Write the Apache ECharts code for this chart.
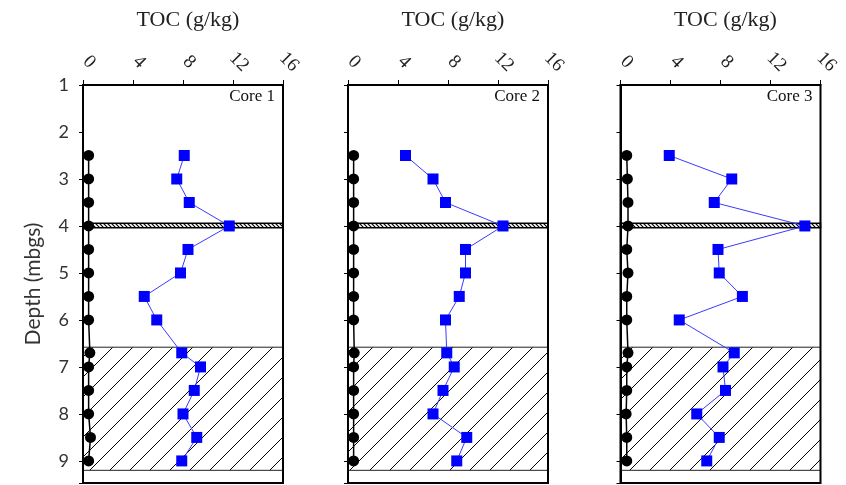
<!DOCTYPE html>
<html><head><meta charset="utf-8">
<script src="https://cdn.jsdelivr.net/npm/echarts@6/dist/echarts.min.js"></script>
<style>html,body{margin:0;padding:0;background:#fff}#c{width:846px;height:485px}</style>
</head><body><div id="c"></div>
<script>
const depths = [2.5, 3, 3.5, 4, 4.5, 5, 5.5, 6, 6.7, 7, 7.5, 8, 8.5, 9];
const core1TOC = [8.1, 7.5, 8.5, 11.7, 8.4, 7.8, 4.9, 5.9, 7.9, 9.4, 8.9, 8.0, 9.1, 7.9];
const core2TOC = [4.6, 6.8, 7.8, 12.4, 9.4, 9.4, 8.9, 7.8, 7.9, 8.5, 7.6, 6.8, 9.5, 8.7];
const core3TOC = [3.9, 8.9, 7.5, 14.75, 7.8, 7.9, 9.75, 4.7, 9.1, 8.2, 8.4, 6.1, 7.9, 6.9];
const core1Base = [0.45, 0.45, 0.45, 0.45, 0.45, 0.45, 0.45, 0.45, 0.55, 0.45, 0.45, 0.45, 0.6, 0.45];
const core2Base = [0.45, 0.45, 0.45, 0.45, 0.45, 0.45, 0.45, 0.45, 0.5, 0.45, 0.45, 0.45, 0.45, 0.45];
const core3Base = [0.5, 0.55, 0.6, 0.6, 0.5, 0.6, 0.5, 0.5, 0.6, 0.5, 0.5, 0.45, 0.5, 0.5];
const coreNames = ['Core 1', 'Core 2', 'Core 3'];
const xTicks = [0, 4, 8, 12, 16];
const thinLayer = [3.94, 4.04];
const hatchedLayer = [6.58, 9.2];

function makePattern(size, dir, width) {
  const c = document.createElement('canvas');
  c.width = size; c.height = size;
  const g = c.getContext('2d');
  g.strokeStyle = '#000'; g.lineWidth = width;
  g.beginPath();
  if (dir === '/') {
    g.moveTo(-1, size + 1); g.lineTo(size + 1, -1);
    g.moveTo(-1, 1); g.lineTo(1, -1);
    g.moveTo(size - 1, size + 1); g.lineTo(size + 1, size - 1);
  } else {
    g.moveTo(-1, -1); g.lineTo(size + 1, size + 1);
    g.moveTo(size - 1, -1); g.lineTo(size + 1, 1);
    g.moveTo(-1, size - 1); g.lineTo(1, size + 1);
  }
  g.stroke();
  return c;
}
const bigHatch = makePattern(20, '/', 1);
const fineHatch = makePattern(4, '\\', 1.2);

const tocs = [core1TOC, core2TOC, core3TOC];
const bases = [core1Base, core2Base, core3Base];
const lefts = [83, 348, 620.5];
const W = 200;

const grids = [], xAxes = [], yAxes = [], series = [], titles = [], graphics = [];
for (let i = 0; i < 3; i++) {
  grids.push({left: lefts[i], top: 85, width: W, height: 398, show: false});
  xAxes.push({
    type: 'value', gridIndex: i, position: 'top', min: 0, max: 16, interval: 4,
    axisLine: {show: true, lineStyle: {color: '#000', width: 2}},
    axisTick: {show: true, length: 5, lineStyle: {color: '#000', width: 1}},
    axisLabel: {rotate: 45, margin: 29, align: 'center', verticalAlign: 'middle', padding: [0, 0, 0, 17],
      fontFamily: 'Liberation Serif', fontSize: 19, color: '#222',
      formatter: v => xTicks.includes(v) ? String(v) : ''},
    splitLine: {show: false}
  });
  yAxes.push({
    type: 'value', gridIndex: i, inverse: true, min: 1, max: 9.47, interval: 1,
    name: i === 0 ? 'Depth (mbgs)' : '', nameLocation: 'middle', nameRotate: 90, nameGap: 39,
    nameTextStyle: {fontFamily: 'Lato', fontSize: 21, color: '#333'},
    axisLine: {show: true, lineStyle: {color: '#000', width: 2}},
    axisTick: {show: true, length: 4, lineStyle: {color: '#000', width: 1}},
    axisLabel: {show: i === 0, margin: 14, fontFamily: 'Lato', fontSize: 18, color: '#333',
      formatter: v => Number.isInteger(v) ? String(v) : ''},
    splitLine: {show: false}
  });
  series.push({
    type: 'line', xAxisIndex: i, yAxisIndex: i, data: [], z: 1, silent: true,
    markArea: {
      silent: true,
      data: [
        [{coord: [0, thinLayer[0]], itemStyle: {color: {image: fineHatch, repeat: 'repeat'}, borderColor: '#000', borderWidth: 1.5}},
         {coord: [16, thinLayer[1]]}],
        [{coord: [0, hatchedLayer[0]], itemStyle: {color: {image: bigHatch, repeat: 'repeat'}, borderColor: '#222', borderWidth: 1}},
         {coord: [16, hatchedLayer[1]]}],
        [{coord: [0, 1], itemStyle: {color: 'transparent', borderColor: '#000', borderWidth: 2}},
         {coord: [16, 9.47]}]
      ]
    }
  });
  series.push({
    type: 'line', xAxisIndex: i, yAxisIndex: i, z: 3,
    data: bases[i].map((v, k) => [v, depths[k]]),
    symbol: 'circle', symbolSize: 11,
    itemStyle: {color: '#000'}, lineStyle: {color: '#000', width: 1.5}
  });
  series.push({
    type: 'line', xAxisIndex: i, yAxisIndex: i, z: 4,
    data: tocs[i].map((v, k) => [v, depths[k]]),
    symbol: 'rect', symbolSize: 11,
    itemStyle: {color: '#0000ff'}, lineStyle: {color: '#3a3aff', width: 1}
  });
  titles.push({text: 'TOC (g/kg)', left: lefts[i] + W / 2, top: 4, textAlign: 'center',
    textStyle: {fontFamily: 'Liberation Serif', fontSize: 22, fontWeight: 'normal', color: '#222'}});
  graphics.push({type: 'text', x: lefts[i] + W - 8, y: 88,
    style: {text: coreNames[i], textAlign: 'right', fontFamily: 'Liberation Serif', fontSize: 17, fill: '#111'}});
}

const chart = echarts.init(document.getElementById('c'), null, {renderer: 'canvas'});
chart.setOption({
  animation: false,
  title: titles,
  grid: grids, xAxis: xAxes, yAxis: yAxes, series: series, graphic: graphics
});
</script></body></html>
